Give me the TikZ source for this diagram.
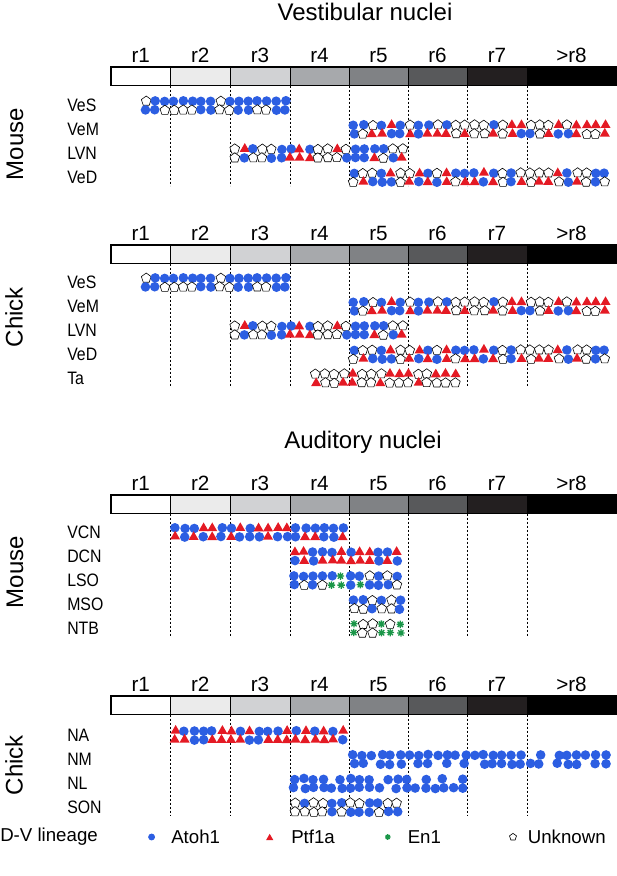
\documentclass[tikz,border=0pt]{standalone}
\usepackage{fontspec}
\setmainfont{Liberation Sans}
\newfontfamily\narrowfont[FakeStretch=0.88]{Liberation Sans}

\definecolor{atohblue}{RGB}{44,94,226}
\definecolor{ptfred}{RGB}{228,26,36}
\definecolor{engreen}{RGB}{26,150,72}
\definecolor{rtwo}{RGB}{235,235,235}
\definecolor{rthree}{RGB}{209,210,212}
\definecolor{rfour}{RGB}{167,169,172}
\definecolor{rfive}{RGB}{128,130,133}
\definecolor{rsix}{RGB}{88,89,91}
\definecolor{rseven}{RGB}{35,31,32}
\definecolor{reight}{RGB}{0,0,0}

% 0 gap, 1 Atoh1, 2 Ptf1a, 3 unknown, 4 En1
\newcommand\putsym[4]{%
  \ifcase#1\relax
  \or \fill[atohblue] (#2,#3) circle (4.8*#4);
  \or \fill[ptfred] (#2,#3) +(270:5.8*#4) -- +(150:5.8*#4) -- +(30:5.8*#4) -- cycle;
  \or \filldraw[fill=white, draw=black, line width=0.45pt] (#2,#3) +(270:5.1*#4) -- +(342:5.1*#4) -- +(54:5.1*#4) -- +(126:5.1*#4) -- +(198:5.1*#4) -- cycle;
  \or \draw[engreen, line width=1pt] (#2,#3) +(0:3.7*#4) -- +(180:3.7*#4) +(45:3.7*#4) -- +(225:3.7*#4) +(90:3.7*#4) -- +(270:3.7*#4) +(135:3.7*#4) -- +(315:3.7*#4);
  \fi}

\pgfmathdeclarerandomlist{ves}{{1}{1}{1}{3}{3}}
\pgfmathdeclarerandomlist{mix}{{1}{2}{3}}
\pgfmathdeclarerandomlist{ta}{{2}{3}}
\pgfmathdeclarerandomlist{bluered}{{1}{2}}
\pgfmathdeclarerandomlist{lso}{{1}{1}{3}{4}}
\pgfmathdeclarerandomlist{bluepent}{{1}{3}}
\pgfmathdeclarerandomlist{ntb}{{4}{3}}
\pgfmathdeclarerandomlist{blues}{{1}{1}{1}{1}{1}{0}}

% y, x from, x to, list, seed, jitter
\newcommand\symrow[6]{%
  \pgfmathsetseed{#5}%
  \pgfmathtruncatemacro\nlast{(#3-#2-9.3)/9.3}%
  \foreach \k in {0,...,\nlast}{%
    \foreach \dy in {-4.4,4.4}{%
      \pgfmathsetmacro\xa{#2+4.7+\k*9.3+#6*rand}%
      \pgfmathsetmacro\ya{#1+(\dy)+0.5*#6*rand}%
      \pgfmathrandomitem\s{#4}%
      \putsym{\s}{\xa}{\ya}{1}%
    }%
  }%
}

% bar top, end of dashed lines, prefix
\newcommand\hindbrain[3]{%
  \foreach \xl/\xr/\g/\lab [count=\i] in {111/170.5/white/r1, 170.5/230/rtwo/r2, 230/290/rthree/r3, 290/349/rfour/r4, 349/408/rfive/r5, 408/467/rsix/r6, 467/527/rseven/r7, 527/616/reight/{>r8}}{%
    \draw[segment, fill=\g] (\xl,#1) rectangle (\xr,#1+18.5);
    \node[rlabel] (#3\i) at ({(\xl+\xr)/2},#1-12) {\lab};
  }%
  \draw[barframe] (111,#1) rectangle (616,#1+18.5);
  \foreach \xb in {170.5,230,290,349,408,467,527}
    \draw[hbound] (\xb,#1+18.5) -- (\xb,#2);
}

\begin{document}
\begin{tikzpicture}[x=0.75pt,y=-0.75pt]
  \tikzset{segment/.style={draw=black, line width=0.6pt},
    barframe/.style={draw=black, line width=1.2pt},
    hbound/.style={draw=black, line width=0.5pt, dash pattern=on 1.6pt off 1.4pt},
    title/.style={font=\fontsize{18}{20}\selectfont},
    rlabel/.style={font=\fontsize{15.5}{17}\selectfont, inner sep=0pt},
    rowlabel/.style={font=\narrowfont\fontsize{13.5}{15}\selectfont, anchor=west, inner sep=0pt},
    species/.style={font=\fontsize{18}{20}\selectfont, rotate=90, inner sep=0pt},
    legend/.style={font=\fontsize{14}{16}\selectfont, anchor=west, inner sep=0pt}}
  \useasboundingbox (0,0) rectangle (617,876);

  \node[title] (vest) at (365,12) {Vestibular nuclei};
  \node[title] (aud) at (363,442) {Auditory nuclei};

  \hindbrain{67}{185.5}{mv}
  \hindbrain{245}{386.5}{cv}
  \hindbrain{495}{636.5}{ma}
  \hindbrain{696}{815.5}{ca}

  \node[species] (mousev) at (15,144) {Mouse};
  \node[species] (chickv) at (14,317) {Chick};
  \node[species] (mousea) at (15,572) {Mouse};
  \node[species] (chicka) at (14,765) {Chick};

  \foreach \lab [count=\i] in {VeS,VeM,LVN,VeD}
    \node[rowlabel] (mv\lab) at (67,81.5+24*\i) {\lab};
  \foreach \lab [count=\i] in {VeS,VeM,LVN,VeD,Ta}
    \node[rowlabel] (cv\lab) at (67,258.5+24*\i) {\lab};
  \foreach \lab [count=\i] in {VCN,DCN,LSO,MSO,NTB}
    \node[rowlabel] (ma\lab) at (67,508.5+24*\i) {\lab};
  \foreach \lab [count=\i] in {NA,NM,NL,SON}
    \node[rowlabel] (ca\lab) at (67,711.5+24*\i) {\lab};

  \symrow{105.5}{141}{290}{ves}{11}{0.8}
  \symrow{129.5}{349}{616}{mix}{12}{0.8}
  \symrow{153.5}{230}{408}{mix}{13}{0.8}
  \symrow{177.5}{349}{616}{mix}{14}{0.8}

  \symrow{282.5}{141}{290}{ves}{11}{0.8}
  \symrow{306.5}{349}{616}{mix}{12}{0.8}
  \symrow{330.5}{230}{408}{mix}{13}{0.8}
  \symrow{354.5}{349}{616}{mix}{14}{0.8}
  \symrow{378.5}{311}{467}{ta}{15}{0.8}

  \symrow{532.5}{170.5}{349}{bluered}{21}{0.8}
  \symrow{556.5}{290}{408}{bluered}{22}{0.8}
  \symrow{580.5}{290}{408}{lso}{23}{0.8}
  \symrow{604.5}{349}{408}{bluepent}{24}{0.8}
  \symrow{628.5}{349}{408}{ntb}{25}{0.8}

  \symrow{735.5}{170.5}{349}{bluered}{31}{0.8}
  \symrow{759.5}{349}{616}{blues}{32}{1.4}
  \symrow{783.5}{290}{467}{blues}{33}{1.4}
  \symrow{807.5}{290}{408}{bluepent}{34}{0.8}

  \node[legend] (dv) at (0,837) {D-V lineage};
  \putsym{1}{151.6}{837}{0.72}
  \node[legend] (atoh) at (171,837) {Atoh1};
  \putsym{2}{269.7}{838}{0.72}
  \node[legend] (ptf) at (291,837) {Ptf1a};
  \putsym{4}{387.8}{837}{0.75}
  \node[legend] (en) at (407.5,837) {En1};
  \putsym{3}{513}{837}{0.72}
  \node[legend] (unk) at (527.6,837) {Unknown};
\end{tikzpicture}
\end{document}
